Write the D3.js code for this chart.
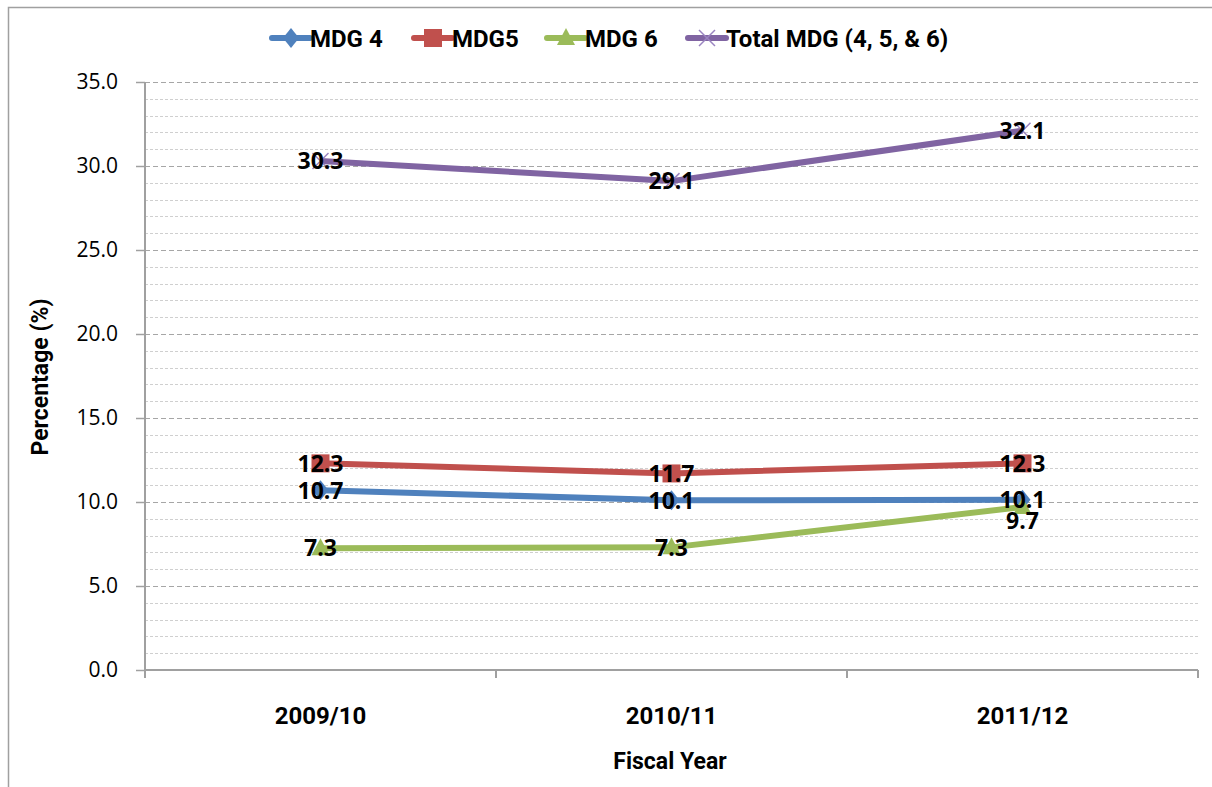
<!DOCTYPE html>
<html>
<head>
<meta charset="utf-8">
<script src="https://cdn.jsdelivr.net/npm/d3@7"></script>
<style>
  body { margin: 0; background: #fff; }
  svg text { font-family: Roboto, "Open Sans", sans-serif; }
  .grid-minor line { stroke: #cfcfcf; stroke-dasharray: 3,2; }
  .grid-major line { stroke: #a6a6a6; stroke-dasharray: 5,3; }
</style>
</head>
<body>
<div id="chart"></div>
<script>
var years = ["2009/10", "2010/11", "2011/12"];
var mdg4 = [10.7, 10.1, 10.14];
var mdg5 = [12.3, 11.7, 12.3];
var mdg6 = [7.25, 7.3, 9.7];
var total = [30.3, 29.1, 32.1];
var seriesNames = ["MDG 4", "MDG5", "MDG 6", "Total MDG (4, 5, & 6)"];
var yTicks = [0, 5, 10, 15, 20, 25, 30, 35];

var width = 1212, height = 787;
var plotLeft = 145, plotRight = 1198, plotTop = 82, plotBottom = 670;

var svg = d3.select("#chart").append("svg")
    .attr("width", width)
    .attr("height", height);

// рамка
svg.append("rect")
    .attr("x", 8.5).attr("y", 7.5)
    .attr("width", 1400).attr("height", 900)
    .attr("fill", "none").attr("stroke", "#a0a0a0").attr("stroke-width", 1.5);

var x = d3.scaleBand().domain(years).range([plotLeft, plotRight]);
var y = d3.scaleLinear().domain([0, 35]).range([plotBottom, plotTop]);

// сетка
svg.append("g").attr("class", "grid-minor")
    .selectAll("line")
    .data(d3.range(1, 35).filter(function (d) { return d % 5 != 0; }))
    .enter().append("line")
    .attr("x1", plotLeft).attr("x2", plotRight)
    .attr("y1", function (d) { return Math.round(y(d)) + 0.5; })
    .attr("y2", function (d) { return Math.round(y(d)) + 0.5; });

svg.append("g").attr("class", "grid-major")
    .selectAll("line")
    .data(yTicks.filter(function (d) { return d > 0; }))
    .enter().append("line")
    .attr("x1", plotLeft).attr("x2", plotRight)
    .attr("y1", function (d) { return Math.round(y(d)) + 0.5; })
    .attr("y2", function (d) { return Math.round(y(d)) + 0.5; });

// оси
var yAxis = d3.axisLeft(y).tickValues(yTicks).tickSize(9).tickPadding(18)
    .tickFormat(d3.format(".1f"));
var gy = svg.append("g").attr("transform", "translate(" + plotLeft + ",0)").call(yAxis);
gy.select(".domain").remove();
gy.selectAll("line").attr("stroke", "#a0a0a0").attr("stroke-width", 1.5);
gy.selectAll("text").attr("font-size", 21).attr("fill", "#000")
    .style("font-family", "'Open Sans', sans-serif");
svg.append("line").attr("x1", plotLeft).attr("x2", plotLeft)
    .attr("y1", plotTop).attr("y2", plotBottom + 8)
    .attr("stroke", "#a0a0a0").attr("stroke-width", 2);

svg.append("line").attr("x1", plotLeft).attr("x2", plotRight)
    .attr("y1", plotBottom).attr("y2", plotBottom)
    .attr("stroke", "#a0a0a0").attr("stroke-width", 2);

// засечки между категориями
svg.append("g").selectAll("line")
    .data(d3.range(years.length + 1))
    .enter().append("line")
    .attr("x1", function (i) { return plotLeft + i * x.step(); })
    .attr("x2", function (i) { return plotLeft + i * x.step(); })
    .attr("y1", plotBottom).attr("y2", plotBottom + 8)
    .attr("stroke", "#a0a0a0").attr("stroke-width", 2);

svg.append("g").selectAll("text")
    .data(years)
    .enter().append("text")
    .attr("x", function (d) { return x(d) + x.bandwidth() / 2; })
    .attr("y", 724)
    .attr("text-anchor", "middle")
    .attr("font-size", 24).attr("font-weight", "bold")
    .text(function (d) { return d; });

// подписи осей
svg.append("text")
    .attr("x", 670).attr("y", 769)
    .attr("text-anchor", "middle")
    .attr("font-size", 23).attr("font-weight", "bold")
    .text("Fiscal Year");

svg.append("text")
    .attr("transform", "translate(48,377) rotate(-90)")
    .attr("text-anchor", "middle")
    .attr("font-size", 23).attr("font-weight", "bold")
    .text("Percentage (%)");

var colors = ["#4f81bd", "#c0504d", "#9bbb59", "#8064a2"];
var allSeries = [mdg4, mdg5, mdg6, total];
var markers = ["diamond", "square", "triangle", "cross"];

function drawMarker(g, kind, color) {
  if (kind == "diamond") {
    g.append("path").attr("d", "M0,-10L8,0L0,10L-8,0Z").attr("fill", color);
  } else if (kind == "square") {
    g.append("rect").attr("x", -9).attr("y", -9).attr("width", 18).attr("height", 18).attr("fill", color);
  } else if (kind == "triangle") {
    g.append("path").attr("d", "M0,-10L9,7L-9,7Z").attr("fill", color);
  } else {
    g.append("path").attr("d", "M-8,-8L8,8M-8,8L8,-8").attr("stroke", color).attr("stroke-width", 1.5);
  }
}

var line = d3.line()
    .x(function (d, i) { return x(years[i]) + x.bandwidth() / 2; })
    .y(function (d) { return y(d); });

allSeries.forEach(function (vals, s) {
  svg.append("path")
      .datum(vals)
      .attr("fill", "none")
      .attr("stroke", colors[s])
      .attr("stroke-width", 6)
      .attr("stroke-linejoin", "round")
      .attr("d", line);
  vals.forEach(function (v, i) {
    var g = svg.append("g").attr("transform",
        "translate(" + (x(years[i]) + x.bandwidth() / 2) + "," + y(v) + ")");
    drawMarker(g, markers[s], s == 3 ? "#9a84c0" : colors[s]);
  });
});

// подписи значений
allSeries.forEach(function (vals, s) {
  vals.forEach(function (v, i) {
    var dy = (s == 2 && i == 2) ? 14 : 0;
    svg.append("text")
        .attr("x", x(years[i]) + x.bandwidth() / 2)
        .attr("y", y(v) + dy)
        .attr("dy", "0.36em")
        .attr("text-anchor", "middle")
        .attr("font-size", 23).attr("font-weight", "bold")
        .attr("fill", "#000")
        .style("font-family", "'Open Sans', sans-serif")
        .text(v.toFixed(1));
  });
});

// легенда
var legendX = [272, 414, 547, 688];
var lg = svg.append("g");
seriesNames.forEach(function (name, s) {
  var g = lg.append("g").attr("transform", "translate(" + legendX[s] + ",38)");
  g.append("line").attr("x1", 0).attr("x2", 38)
      .attr("stroke", colors[s]).attr("stroke-width", 6).attr("stroke-linecap", "round");
  var m = g.append("g").attr("transform", "translate(19,0)");
  drawMarker(m, markers[s], s == 3 ? "#9a84c0" : colors[s]);
  g.append("text").attr("x", 38).attr("dy", "0.36em")
      .attr("font-size", 24).attr("font-weight", "bold")
      .text(name);
});
</script>
</body>
</html>
